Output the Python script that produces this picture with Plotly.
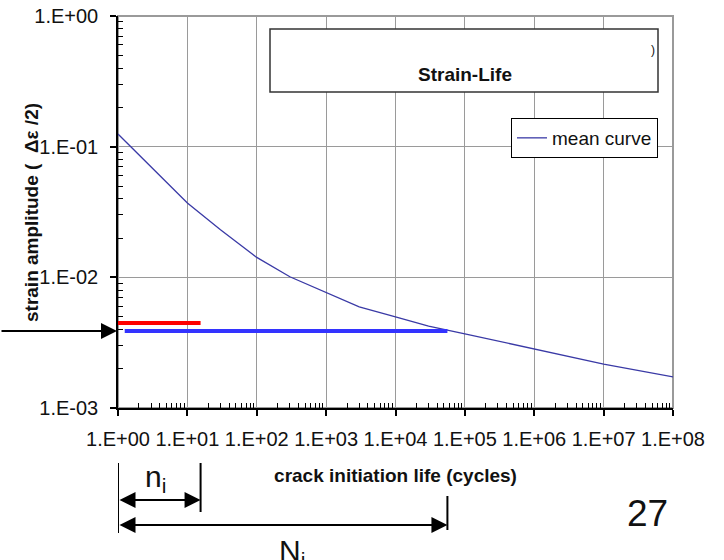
import math
import plotly.graph_objects as go

# ---- data ----
cycles = [1, 10, 30, 100, 300, 1e3, 3e3, 1e4, 3e4, 1e5, 1e6, 1e7, 1e8, 1.13e8]
strain = [0.125, 0.0371, 0.0231, 0.0142, 0.0101, 0.0076, 0.00594,
          0.00498, 0.00424, 0.00369, 0.00283, 0.00217, 0.00173, 0.00168]

red_level = 0.00448      # applied (higher) strain level
blue_level = 0.00389     # strain level of interest
n_i = 15.5               # cycles applied
N_i = 5.6e4              # crack initiation life at blue level
blue_start = 1.25

x_ticks = [1, 10, 100, 1e3, 1e4, 1e5, 1e6, 1e7, 1e8]
x_ticktext = ["1.E+00", "1.E+01", "1.E+02", "1.E+03", "1.E+04",
              "1.E+05", "1.E+06", "1.E+07", "1.E+08"]
y_ticks = [1e-3, 1e-2, 1e-1, 1]
y_ticktext = ["1.E-03", "1.E-02", "1.E-01", "1.E+00"]

FONT = "Arial, Liberation Sans, sans-serif"
TXT = "#111"

# plot area in pixels
L, R, T, B = 118, 673, 16, 408
W, H = R - L, B - T
def px(x):
    return (x - L) / W
def py(y):
    return (B - y) / H

x_minor = [m * 10 ** d for d in range(0, 8) for m in range(2, 10)]
y_minor = [m * 10 ** d for d in range(-3, 0) for m in range(2, 10)]

fig = go.Figure()
fig.add_trace(go.Scatter(x=cycles, y=strain, mode="lines", name="mean curve",
                         line=dict(color="#3a3aa6", width=1.3)))
fig.add_trace(go.Scatter(x=[1, n_i], y=[red_level, red_level], mode="lines",
                         line=dict(color="#ff0000", width=4), showlegend=False,
                         cliponaxis=False))
fig.add_trace(go.Scatter(x=[blue_start, N_i], y=[blue_level, blue_level], mode="lines",
                         line=dict(color="#3333ff", width=4), showlegend=False))

axis_common = dict(type="log", showgrid=True, gridcolor="#9a9a9a", gridwidth=1,
                   showline=True, linecolor="black", linewidth=1.5,
                   ticks="outside", ticklen=6, tickcolor="black", tickwidth=1.5,
                   tickfont=dict(family=FONT, size=20, color=TXT),
                   zeroline=False, tickmode="array")

fig.update_xaxes(**axis_common, range=[0, 8], tickvals=x_ticks, ticktext=x_ticktext,
                 ticklabelstandoff=6,
                 minor=dict(tickmode="array", tickvals=x_minor, ticks="inside",
                            ticklen=5, tickcolor="black", tickwidth=1, showgrid=False),
                 title=dict(text="<b>crack initiation life (cycles)</b>",
                            font=dict(family=FONT, size=19, color=TXT), standoff=20))
fig.update_yaxes(**axis_common, range=[-3, 0], tickvals=y_ticks, ticktext=y_ticktext,
                 ticklabelstandoff=8,
                 minor=dict(tickmode="array", tickvals=y_minor, ticks="inside",
                            ticklen=5, tickcolor="black", tickwidth=1, showgrid=False))

shapes = [
    # plot frame (grey top / right border)
    dict(type="rect", xref="paper", yref="paper", x0=0, x1=1, y0=0, y1=1,
         line=dict(color="#9a9a9a", width=2), layer="below"),
    # title box
    dict(type="rect", xref="paper", yref="paper", x0=px(270), x1=px(658),
         y0=py(92), y1=py(29), line=dict(color="#333", width=1.5),
         fillcolor="white", layer="above"),
    # vertical bars below the axis
    dict(type="line", xref="x", yref="paper", x0=1, x1=1, y0=py(463), y1=py(533),
         line=dict(color="black", width=2)),
    dict(type="line", xref="x", yref="paper", x0=n_i, x1=n_i, y0=py(463), y1=py(512),
         line=dict(color="black", width=2)),
    dict(type="line", xref="x", yref="paper", x0=N_i, x1=N_i, y0=py(496), y1=py(530),
         line=dict(color="black", width=2)),
]

def label(text, x, y, size, angle=0):
    return dict(text=text, xref="paper", yref="paper", x=px(x), y=py(y),
                xanchor="center", yanchor="middle", showarrow=False, textangle=angle,
                font=dict(family=FONT, size=size, color=TXT))

arrow_style = dict(showarrow=True, arrowhead=2, arrowsize=1.6, arrowwidth=2,
                   arrowcolor="black", text="")

annotations = [
    # y-axis title
    label("<b>strain amplitude (  Δε /2)</b>", 31, 213, 19, angle=-90),
    label("<b>Strain-Life</b>", 465, 75, 19),
    label(")", 653, 50, 12),
    # arrow pointing at the strain level
    dict(x=0, y=math.log10(blue_level), xref="x", yref="y", ax=-118, ay=0,
         axref="pixel", ayref="pixel", standoff=1, **arrow_style),
    # n_i double arrow
    dict(x=math.log10(n_i), y=py(500), xref="x", yref="paper", ax=0, ay=0,
         axref="x", ayref="pixel", startarrowhead=2, startarrowsize=1.6,
         arrowside="end+start", **arrow_style),
    # N_i double arrow
    dict(x=math.log10(N_i), y=py(525), xref="x", yref="paper", ax=0, ay=0,
         axref="x", ayref="pixel", startarrowhead=2, startarrowsize=1.6,
         arrowside="end+start", **arrow_style),
    label("n<sub>i</sub>", 155, 478, 30),
    label("N<sub>i</sub>", 292, 552, 30),
    label("27", 647, 513, 37),
]

fig.update_layout(
    width=724, height=560,
    margin=dict(l=L, r=724 - R, t=T, b=560 - B, autoexpand=False),
    paper_bgcolor="white", plot_bgcolor="white",
    shapes=shapes, annotations=annotations,
    showlegend=True,
    legend=dict(x=px(658), xanchor="right", y=py(118), yanchor="top",
                bgcolor="white", bordercolor="black", borderwidth=1,
                font=dict(family=FONT, size=19, color=TXT),
                itemwidth=30, tracegroupgap=0),
    font=dict(family=FONT),
)

fig.write_html("out.html", config={"displayModeBar": False},
               post_script="document.body.style.margin='0';document.body.style.overflow='hidden';")
